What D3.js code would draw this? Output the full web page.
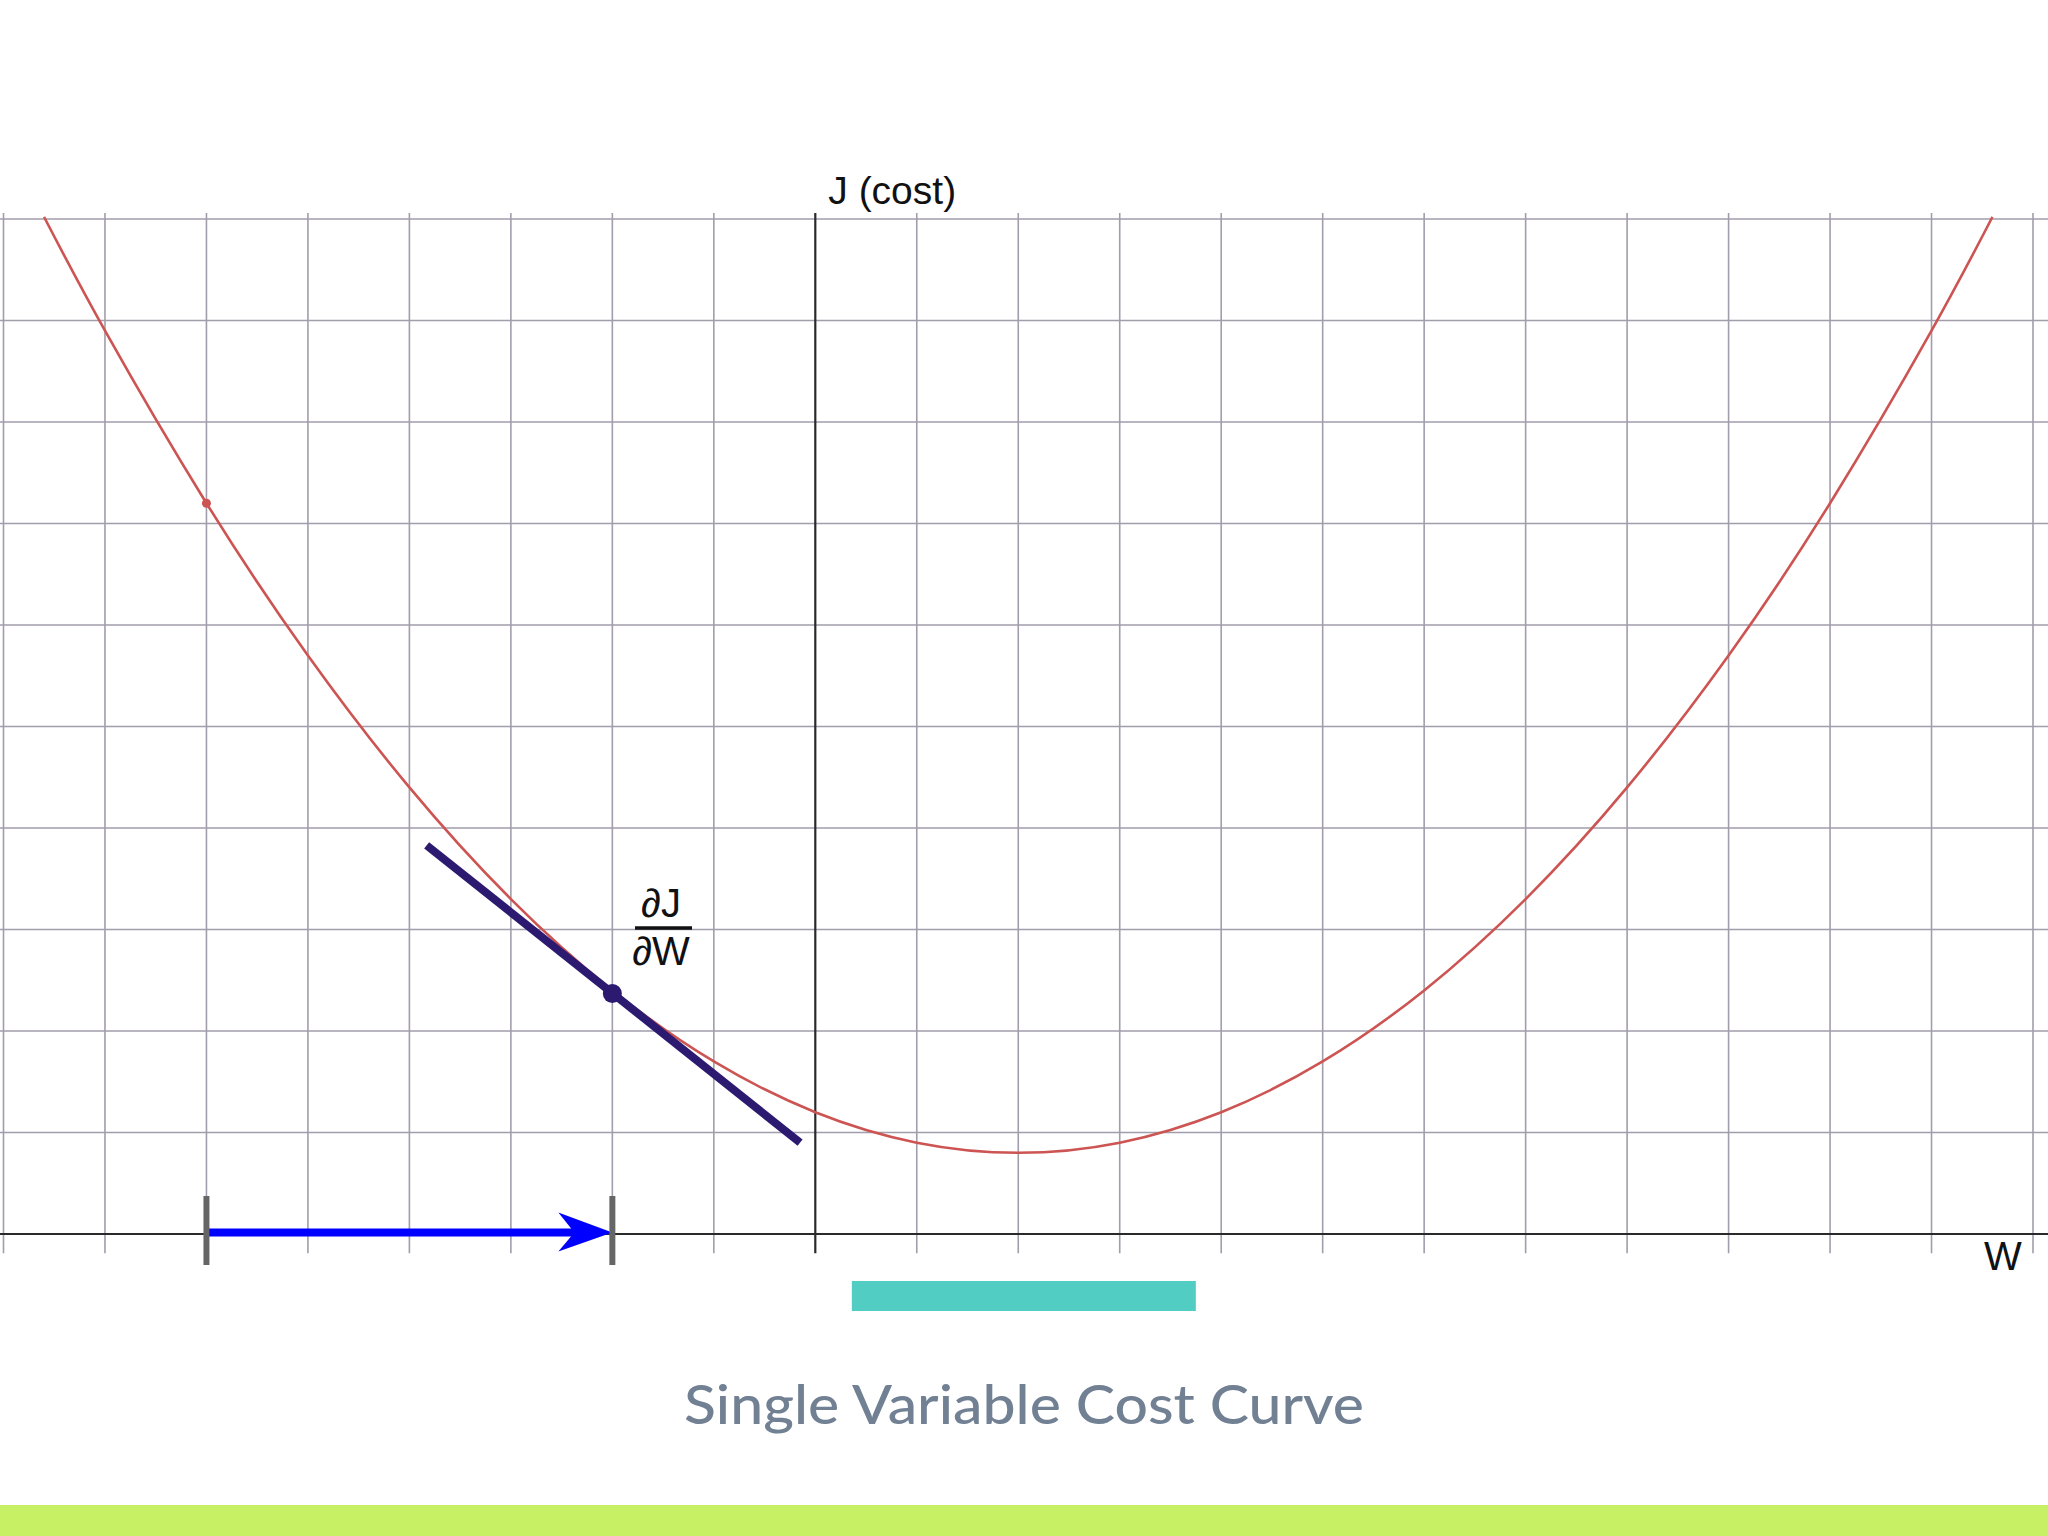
<!DOCTYPE html>
<html>
<head>
<meta charset="utf-8">
<script src="https://cdn.jsdelivr.net/npm/d3@7"></script>
<style>
  html, body { margin: 0; padding: 0; background: #ffffff; }
  svg { display: block; }
</style>
</head>
<body>
<div id="chart"></div>
<script>
// ---- data ----
const gridW = [-8,-7,-6,-5,-4,-3,-2,-1,0,1,2,3,4,5,6,7,8,9,10,11,12];
const gridJ = [1,2,3,4,5,6,7,8,9,10];
const curveW = [-7.6,-7,-6,-5,-4,-3,-2,-1,0,1,2,3,4,5,6,7,8,9,10,11,11.6];
const curveJ = [10.02,8.9,7.2,5.7,4.4,3.3,2.4,1.7,1.2,0.9,0.8,0.9,1.2,1.7,2.4,3.3,4.4,5.7,7.2,8.9,10.02];
const tangentW = [-3.83, -0.15];
const tangentJ = [3.83, 0.90];
const currentPoint = {w: -2, j: 2.37};
const startPoint = {w: -6, j: 7.2};
const stepW = [-6, -2];
const titleText = "Single Variable Cost Curve";
const xLabel = "W";
const yLabel = "J (cost)";

const W = 2048, H = 1536;
const svg = d3.select("#chart").append("svg").attr("width", W).attr("height", H);
svg.append("rect").attr("width", W).attr("height", H).attr("fill", "#ffffff");

const x = d3.scaleLinear().domain([-8, 12]).range([3.5, 2033]);
const y = d3.scaleLinear().domain([0, 10]).range([1234, 219]);
const gridTop = y(10.06), gridBottom = y(-0.19);
const gridColor = "#a19dab";

// grid
const g = svg.append("g");
g.selectAll("line.h").data(gridJ).join("line")
  .attr("x1", 0).attr("x2", W)
  .attr("y1", d => y(d)).attr("y2", d => y(d))
  .attr("stroke", gridColor).attr("stroke-width", 1.6);
g.selectAll("line.v").data(gridW.filter(d => d !== 0)).join("line")
  .attr("x1", d => x(d)).attr("x2", d => x(d))
  .attr("y1", gridTop).attr("y2", gridBottom)
  .attr("stroke", gridColor).attr("stroke-width", 1.6);

// axes
g.append("line").attr("x1", 0).attr("x2", W).attr("y1", y(0)).attr("y2", y(0))
  .attr("stroke", "#2a2a2a").attr("stroke-width", 2.2);
g.append("line").attr("x1", x(0)).attr("x2", x(0)).attr("y1", gridTop).attr("y2", gridBottom)
  .attr("stroke", "#2a2a2a").attr("stroke-width", 2.2);

// axis labels
svg.append("text").attr("x", x(0) + 13).attr("y", 204).text(yLabel)
  .attr("font-family", "Liberation Sans, Arial, sans-serif").attr("font-size", 39).attr("fill", "#111");
svg.append("text").attr("x", 1984).attr("y", 1270).text(xLabel)
  .attr("font-family", "Liberation Sans, Arial, sans-serif").attr("font-size", 40).attr("fill", "#111");

// cost curve
const pts = curveW.map((w, i) => [w, curveJ[i]]);
const line = d3.line().x(d => x(d[0])).y(d => y(d[1])).curve(d3.curveNatural);
svg.append("path").datum(pts).attr("d", line)
  .attr("fill", "none").attr("stroke", "#cc5452").attr("stroke-width", 2.6);

// start point
svg.append("circle").attr("cx", x(startPoint.w)).attr("cy", y(startPoint.j)).attr("r", 4.5)
  .attr("fill", "#cc5452");

// tangent
svg.append("line")
  .attr("x1", x(tangentW[0])).attr("y1", y(tangentJ[0]))
  .attr("x2", x(tangentW[1])).attr("y2", y(tangentJ[1]))
  .attr("stroke", "#2c1a70").attr("stroke-width", 8);
svg.append("circle").attr("cx", x(currentPoint.w)).attr("cy", y(currentPoint.j)).attr("r", 9.5)
  .attr("fill", "#2c1a70");

// derivative fraction label
const fx = 661;
svg.append("text").attr("x", fx).attr("y", 917).attr("text-anchor", "middle").text("∂J")
  .attr("font-family", "Liberation Sans, Arial, sans-serif").attr("font-size", 40).attr("fill", "#111");
svg.append("line").attr("x1", 635).attr("x2", 692).attr("y1", 928).attr("y2", 928)
  .attr("stroke", "#111").attr("stroke-width", 3.5);
svg.append("text").attr("x", fx).attr("y", 965).attr("text-anchor", "middle").text("∂W")
  .attr("font-family", "Liberation Sans, Arial, sans-serif").attr("font-size", 40).attr("fill", "#111");

// step arrow
const ay = y(0) - 1.5;
svg.append("line").attr("x1", x(stepW[0])).attr("x2", x(stepW[1]) - 30)
  .attr("y1", ay).attr("y2", ay).attr("stroke", "#0000ff").attr("stroke-width", 8);
const tipX = x(stepW[1]);
svg.append("path")
  .attr("d", `M${tipX},${ay} L${tipX-54},${ay-20} L${tipX-38},${ay} L${tipX-54},${ay+19} Z`)
  .attr("fill", "#0000ff");
stepW.forEach(w => {
  svg.append("line").attr("x1", x(w)).attr("x2", x(w)).attr("y1", 1196).attr("y2", 1265)
    .attr("stroke", "#666666").attr("stroke-width", 6);
});

// decorative teal bar
svg.append("rect").attr("x", x(0.36)).attr("y", 1281).attr("width", x(3.75) - x(0.36)).attr("height", 30)
  .attr("fill", "#52cdc4");

// title
svg.append("text").attr("x", 1024).attr("y", 1424).attr("text-anchor", "middle").text(titleText)
  .attr("font-family", "Lato, 'Open Sans', sans-serif").attr("font-size", 54).attr("font-weight", 500)
  .attr("fill", "#718093").attr("textLength", 680).attr("lengthAdjust", "spacingAndGlyphs");

// bottom band
svg.append("rect").attr("x", 0).attr("y", 1505).attr("width", W).attr("height", H - 1505).attr("fill", "#c8f064");
</script>
</body>
</html>
